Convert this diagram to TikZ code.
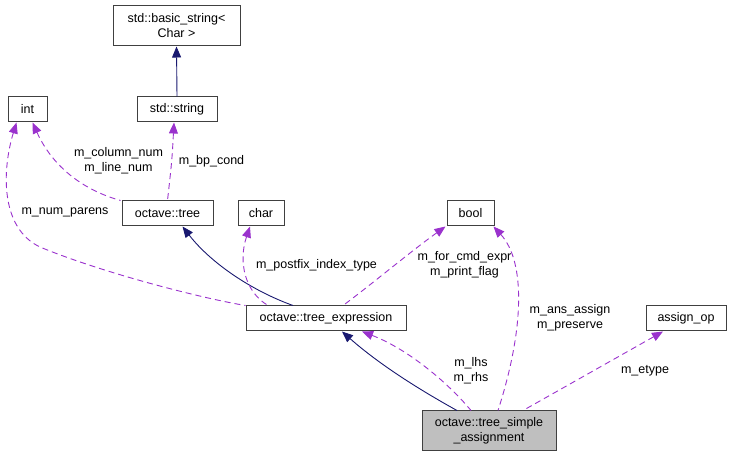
\documentclass[tikz,border=0pt]{standalone}
\usepackage{fontspec}
\setmainfont{Liberation Sans}
\usetikzlibrary{arrows.meta}
\definecolor{inhcol}{HTML}{191970}
\definecolor{memcol}{HTML}{9A32CD}
\definecolor{boxcol}{HTML}{404040}
\begin{document}
\begin{tikzpicture}[x=1pt,y=-1pt,
  font=\fontsize{12.5}{15}\selectfont,
  cls/.style={draw=boxcol,line width=1pt,fill=white,inner sep=0pt,align=center},
  inherit/.style={draw=inhcol,line width=0.9pt,{Triangle[length=11pt,width=9pt]}-},
  member/.style={draw=memcol,line width=0.9pt,dash pattern=on 6pt off 4pt,
    {Triangle[length=11pt,width=9pt]}-},
  lbl/.style={align=center,inner sep=0pt}]
\useasboundingbox (0,0) rectangle (732,457);
\node[cls,minimum width=127pt,minimum height=40pt] (basic) at (176.5,26) {std::basic\_string<\\Char >};
\node[cls,minimum width=80pt,minimum height=25pt] (stdstr) at (177,109.5) {std::string};
\node[cls,minimum width=39pt,minimum height=25pt] (int) at (27.5,109.5) {int};
\node[cls,minimum width=91pt,minimum height=25pt] (tree) at (167.5,213.5) {octave::tree};
\node[cls,minimum width=46pt,minimum height=25pt] (char) at (261,213.5) {char};
\node[cls,minimum width=47pt,minimum height=25pt] (bool) at (470.5,213.5) {bool};
\node[cls,minimum width=160pt,minimum height=25pt] (expr) at (326,318.5) {octave::tree\_expression};
\node[cls,minimum width=80pt,minimum height=25pt] (assignop) at (686,318.5) {assign\_op};
\node[cls,fill={rgb,255:red,191;green,191;blue,191},minimum width=134pt,minimum height=40pt] (simple) at (489,431) {octave::tree\_simple\\\_assignment};

\draw[inherit] (basic.south) -- (stdstr.north);
\draw[member] ([xshift=-3pt]stdstr.south) .. controls (172,160) .. (tree.north);
\node[lbl] (bpcond) at (211.5,161) {m\_bp\_cond};
\draw[member] ([xshift=5pt]int.south) .. controls (55,172) and (90,192) .. ([xshift=-47pt]tree.north);
\node[lbl] (colnum) at (118.5,160.5) {m\_column\_num\\m\_line\_num};
\draw[member] ([xshift=-11pt]int.south) .. controls (2,170) and (0,228) .. (40,247)
  .. controls (100,272) and (200,298) .. (expr.north west);
\node[lbl] (numpar) at (65,212) {m\_num\_parens};
\draw[inherit] ([xshift=15pt]tree.south) .. controls (210,262) and (250,290) .. ([xshift=-33pt]expr.north);
\draw[member] ([xshift=-11pt]char.south) .. controls (238,262) and (245,292) .. ([xshift=-58pt]expr.north);
\node[lbl] (postfix) at (316.5,265) {m\_postfix\_index\_type};
\draw[member] ([xshift=-25pt]bool.south) .. controls (410,252) and (372,284) .. ([xshift=17pt]expr.north);
\node[lbl] (forcmd) at (464.5,264.5) {m\_for\_cmd\_expr\\m\_print\_flag};
\draw[member] ([xshift=23pt]bool.south) .. controls (526,262) and (524,330) .. ([xshift=9pt]simple.north);
\node[lbl] (ansassign) at (570,318) {m\_ans\_assign\\m\_preserve};
\draw[inherit] ([xshift=16pt]expr.south) .. controls (380,365) and (420,390) .. ([xshift=-32pt]simple.north);
\draw[member] ([xshift=36pt]expr.south) .. controls (410,350) and (450,385) .. ([xshift=-18pt]simple.north);
\node[lbl] (lhs) at (471,371) {m\_lhs\\m\_rhs};
\draw[member] ([xshift=-23pt]assignop.south) -- ([xshift=34pt]simple.north);
\node[lbl] (etype) at (645,371) {m\_etype};
\end{tikzpicture}
\end{document}
